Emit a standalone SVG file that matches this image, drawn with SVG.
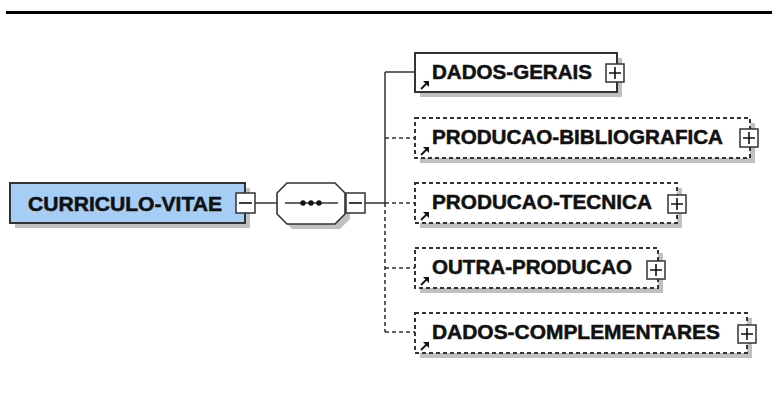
<svg xmlns="http://www.w3.org/2000/svg" width="772" height="394" viewBox="0 0 772 394">
<style>
.lbl{font-family:"Liberation Sans",Arial,sans-serif;font-weight:bold;font-size:19.5px;fill:#111;stroke:#111;stroke-width:0.5}
.shadow{fill:#c0c0c0}
.solid{fill:#fff;stroke:#333;stroke-width:2}
.dash{fill:#fff;stroke:#333;stroke-width:2;stroke-dasharray:4,3}
.conn{stroke:#333;stroke-width:1.5;fill:none}
.dconn{stroke:#333;stroke-width:1.6;fill:none;stroke-dasharray:4,3}
.btn{fill:#fff;stroke:#333;stroke-width:1.5}
.ico{stroke:#111;stroke-width:1.8;fill:none}
</style>
<defs>
<g id="ref"><path d="M0,7 L6,1" class="ico"/><path d="M2,-1 L8,-1 L8,5 Z" fill="#111"/></g>
<g id="plus"><rect x="0" y="0" width="18" height="18" class="btn"/><path d="M3,9 H15 M9,3 V15" stroke="#111" stroke-width="1.6"/></g>
<g id="minus"><rect x="0" y="0" width="19" height="20" class="btn"/><path d="M3,10 H16" stroke="#111" stroke-width="1.6"/></g>
</defs>
<rect width="772" height="394" fill="#fff"/>
<rect x="6" y="11" width="766" height="3" fill="#000"/>
<g id="connectors">
<path class="conn" d="M255,203 H277 M365,203 H385 M385,72 V203 M385,72 H415"/>
<path class="dconn" d="M385,203 V332 M385,138 H415 M385,203 H415 M385,268 H415 M385,332 H415"/>
</g>
<g id="CURRICULO-VITAE">
<rect x="15" y="188" width="235" height="40" class="shadow"/>
<rect x="10" y="183" width="235" height="40" fill="#a6cdf5" stroke="#333" stroke-width="2"/>
<text x="28" y="211" class="lbl" textLength="194" lengthAdjust="spacingAndGlyphs">CURRICULO-VITAE</text>
<use href="#minus" x="236" y="193"/>
</g>
<g id="sequence">
<path d="M292,188 H340 L350,198 V219 L340,229 H292 L282,219 V198 Z" class="shadow"/>
<path d="M287,183 H335 L345,193 V214 L335,224 H287 L277,214 V193 Z" fill="#fff" stroke="#333" stroke-width="1.6"/>
<path d="M285,203 H338" stroke="#333" stroke-width="1.4"/>
<circle cx="303" cy="203" r="2.7" fill="#111"/><circle cx="311" cy="203" r="2.7" fill="#111"/><circle cx="319" cy="203" r="2.7" fill="#111"/>
<use href="#minus" x="346" y="193"/>
</g>
<g id="DADOS-GERAIS">
<rect x="420" y="58" width="202" height="39" class="shadow"/>
<rect x="415" y="53" width="202" height="39" class="solid"/>
<text x="432" y="79" class="lbl" textLength="160" lengthAdjust="spacingAndGlyphs">DADOS-GERAIS</text>
<use href="#ref" x="421" y="82"/>
<use href="#plus" x="606" y="64"/>
</g>
<g id="PRODUCAO-BIBLIOGRAFICA">
<rect x="420" y="123" width="335" height="40" class="shadow"/>
<rect x="415" y="118" width="335" height="40" class="dash"/>
<text x="432" y="144" class="lbl" textLength="291" lengthAdjust="spacingAndGlyphs">PRODUCAO-BIBLIOGRAFICA</text>
<use href="#ref" x="421" y="148"/>
<use href="#plus" x="740" y="129"/>
</g>
<g id="PRODUCAO-TECNICA">
<rect x="420" y="188" width="262" height="40" class="shadow"/>
<rect x="415" y="183" width="262" height="40" class="dash"/>
<text x="432" y="209" class="lbl" textLength="220" lengthAdjust="spacingAndGlyphs">PRODUCAO-TECNICA</text>
<use href="#ref" x="421" y="213"/>
<use href="#plus" x="668" y="195"/>
</g>
<g id="OUTRA-PRODUCAO">
<rect x="420" y="253" width="243" height="40" class="shadow"/>
<rect x="415" y="248" width="243" height="40" class="dash"/>
<text x="432" y="274" class="lbl" textLength="200" lengthAdjust="spacingAndGlyphs">OUTRA-PRODUCAO</text>
<use href="#ref" x="421" y="278"/>
<use href="#plus" x="647" y="261"/>
</g>
<g id="DADOS-COMPLEMENTARES">
<rect x="420" y="318" width="332" height="40" class="shadow"/>
<rect x="415" y="313" width="332" height="40" class="dash"/>
<text x="432" y="339" class="lbl" textLength="288" lengthAdjust="spacingAndGlyphs">DADOS-COMPLEMENTARES</text>
<use href="#ref" x="421" y="343"/>
<use href="#plus" x="738" y="325"/>
</g>
</svg>
